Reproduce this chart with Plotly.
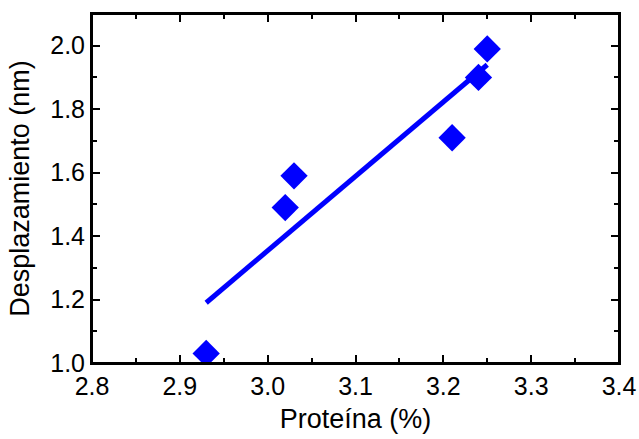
import plotly.graph_objects as go

# Data
proteina = [2.93, 3.02, 3.03, 3.21, 3.24, 3.25]
desplazamiento = [1.03, 1.49, 1.59, 1.71, 1.90, 1.99]
fit_x = [2.93, 3.25]
fit_y = [1.19, 1.94]

x_tickvals = [2.8, 2.9, 3.0, 3.1, 3.2, 3.3, 3.4]
x_ticktext = ["2.8", "2.9", "3.0", "3.1", "3.2", "3.3", "3.4"]
y_tickvals = [1.0, 1.2, 1.4, 1.6, 1.8, 2.0]
y_ticktext = ["1.0", "1.2", "1.4", "1.6", "1.8", "2.0"]

blue = "#0000FF"
font = "Liberation Sans, Arial, sans-serif"

fig = go.Figure()
fig.add_trace(go.Scatter(
    x=fit_x, y=fit_y, mode="lines",
    line=dict(color=blue, width=5), showlegend=False, hoverinfo="skip"))
fig.add_trace(go.Scatter(
    x=proteina, y=desplazamiento, mode="markers",
    marker=dict(symbol="diamond", size=21, color=blue, line=dict(width=0)),
    showlegend=False))

axis_common = dict(
    showgrid=False, zeroline=False, showline=True, linecolor="black", linewidth=2,
    mirror="ticks", ticks="inside", ticklen=8, tickwidth=2, tickcolor="black",
    tickfont=dict(family=font, size=25, color="black"), automargin=False,
)

fig.update_xaxes(
    range=[2.8, 3.4], tickmode="array", tickvals=x_tickvals, ticktext=x_ticktext,
    minor=dict(ticks="inside", ticklen=5, tickwidth=2, tickcolor="black", dtick=0.05, tick0=2.8, showgrid=False),
    title=dict(text="Proteína (%)", font=dict(family=font, size=27, color="black"), standoff=10),
    **axis_common)
fig.update_yaxes(
    range=[1.0, 2.1], tickmode="array", tickvals=y_tickvals, ticktext=y_ticktext,
    minor=dict(ticks="inside", ticklen=5, tickwidth=2, tickcolor="black", dtick=0.1, tick0=1.0, showgrid=False),
    title=dict(text="Desplazamiento (nm)", font=dict(family=font, size=27, color="black"), standoff=13),
    **axis_common)

fig.add_shape(type="rect", xref="paper", yref="paper", x0=0, y0=0, x1=1, y1=1,
              line=dict(color="black", width=2), fillcolor="rgba(0,0,0,0)", layer="above")

fig.update_layout(
    width=639, height=439,
    margin=dict(l=92, r=20, t=14, b=76),
    plot_bgcolor="white", paper_bgcolor="white",
)

fig.write_html("out.html",
               config={"displayModeBar": False},
               post_script="document.body.style.margin='0';document.body.style.overflow='hidden';")
